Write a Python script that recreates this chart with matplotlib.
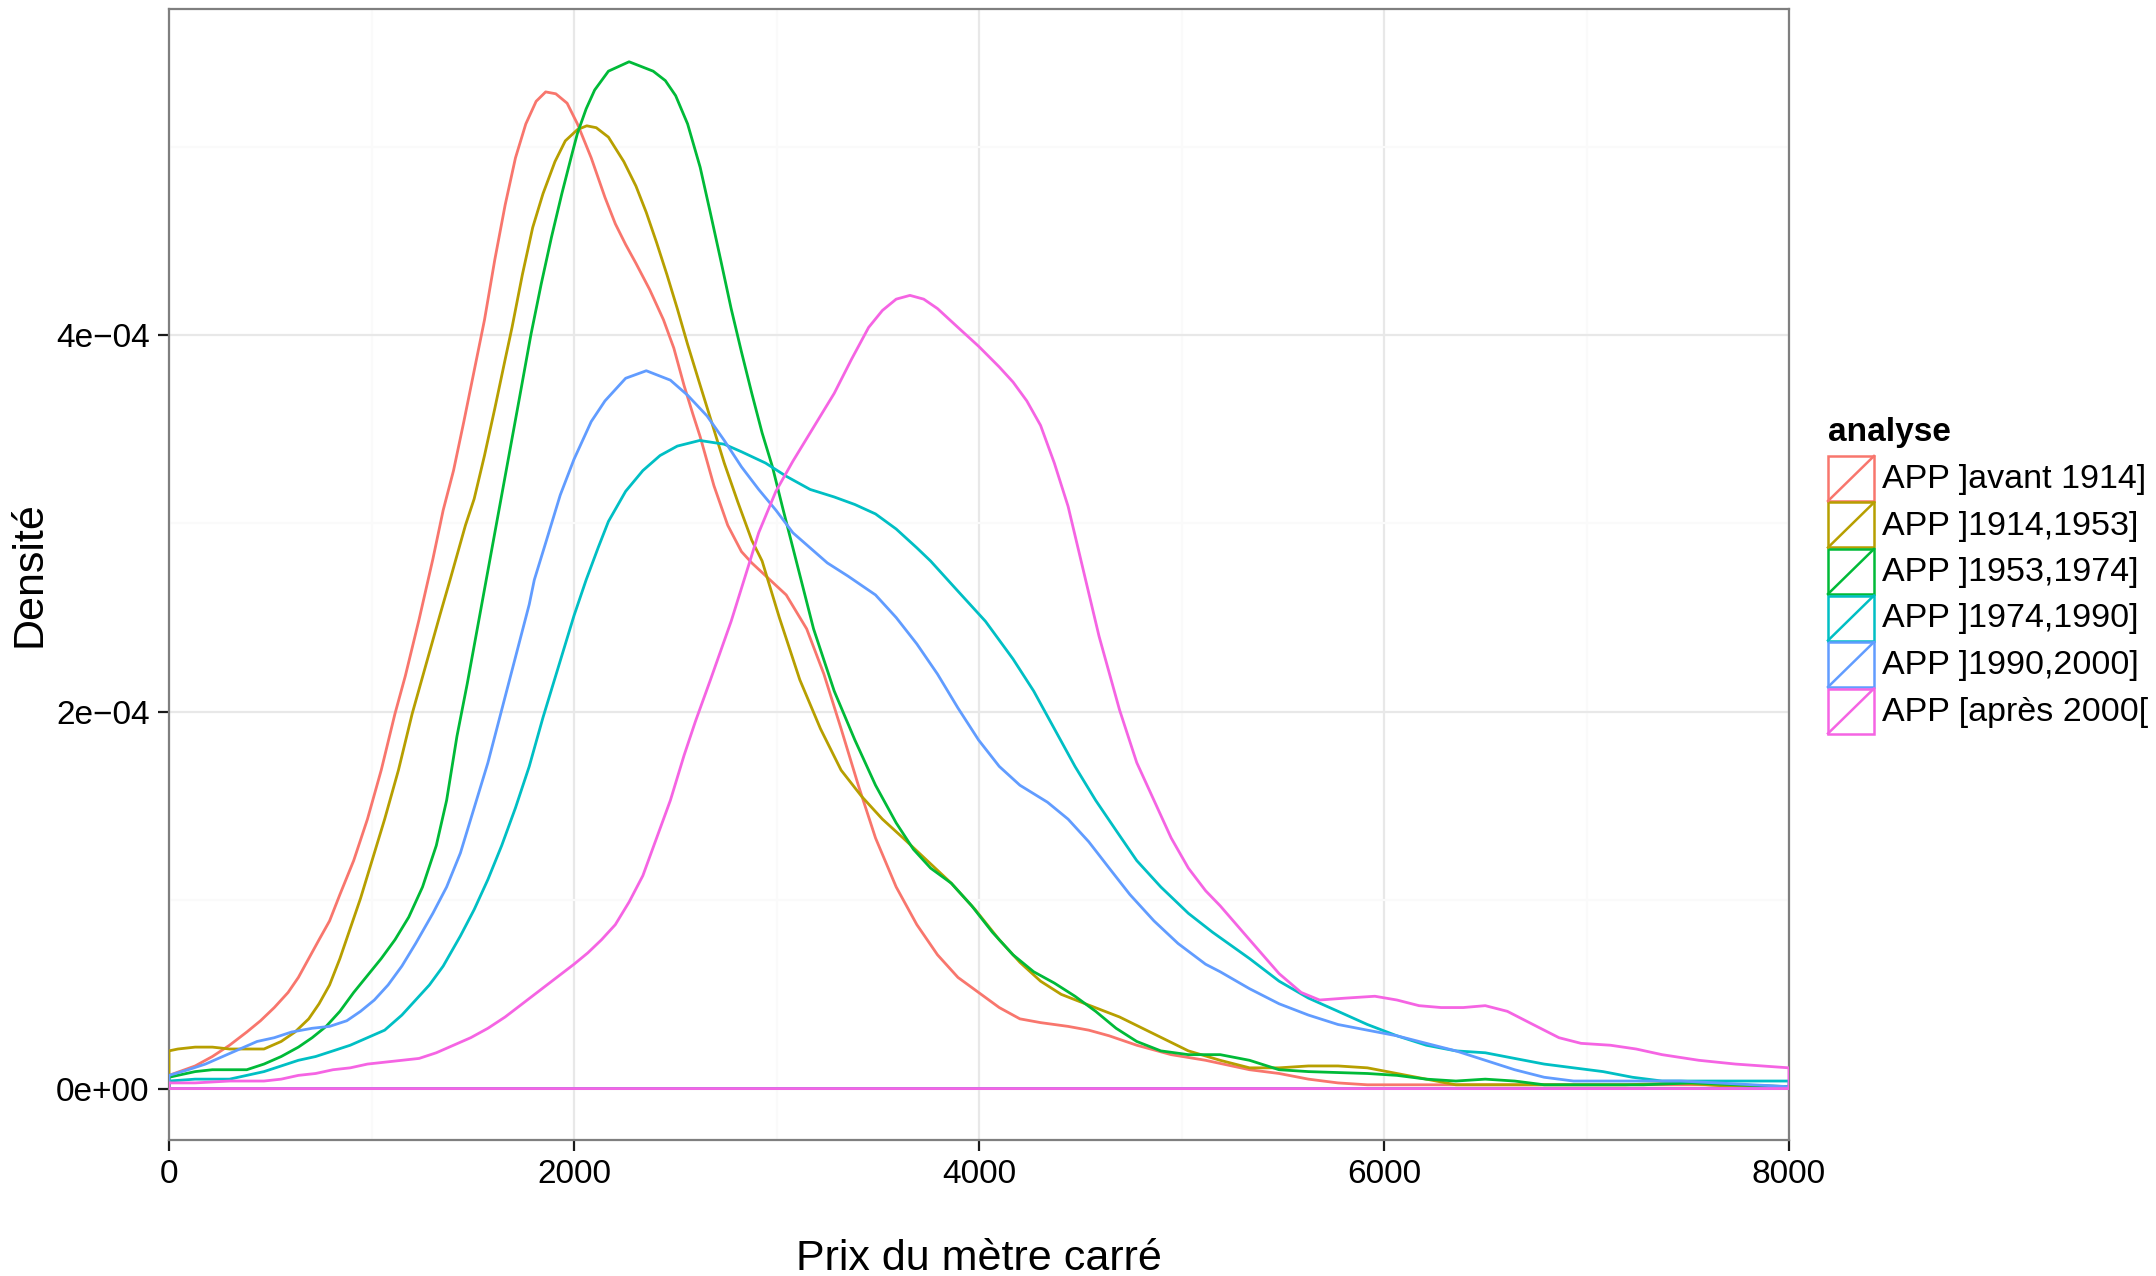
import matplotlib
matplotlib.use('Agg')
import matplotlib.pyplot as plt
from matplotlib.patches import Rectangle
from matplotlib.lines import Line2D

plt.rcParams['font.family'] = ['Liberation Sans', 'DejaVu Sans']

# densities are read in units of 1e-4
DENS_UNIT = 1e-4

LABELS = ['APP ]avant 1914]', 'APP ]1914,1953]', 'APP ]1953,1974]',
          'APP ]1974,1990]', 'APP ]1990,2000]', 'APP [après 2000[']
COLORS = ['#F8766D', '#B79F00', '#00BA38', '#00BFC4', '#619CFF', '#F564E3']

avant1914_x = [0, 129, 214, 299, 384, 452, 520, 588, 639, 690, 741, 793, 844, 912, 980,
               1048, 1116, 1167, 1235, 1303, 1354, 1405, 1456, 1507, 1558, 1609, 1660,
               1711, 1762, 1813, 1860, 1910, 1966, 2017, 2085, 2153, 2204, 2255, 2306,
               2374, 2442, 2493, 2544, 2587, 2623, 2691, 2759, 2827, 2878, 3048, 3149,
               3234, 3319, 3404, 3489, 3591, 3693, 3795, 3896, 3998, 4100, 4202, 4304,
               4440, 4542, 4643, 4779, 4949, 5119, 5336, 5482, 5627, 5773, 5918, 6464,
               7191, 7555, 8000]
avant1914_y = [0.07, 0.12, 0.17, 0.23, 0.30, 0.36, 0.43, 0.51, 0.59, 0.69, 0.79, 0.89,
               1.03, 1.21, 1.43, 1.69, 1.99, 2.19, 2.49, 2.81, 3.07, 3.28, 3.54, 3.81,
               4.08, 4.40, 4.69, 4.94, 5.12, 5.24, 5.29, 5.28, 5.23, 5.12, 4.94, 4.73,
               4.59, 4.48, 4.38, 4.24, 4.08, 3.93, 3.73, 3.58, 3.46, 3.20, 2.99, 2.85,
               2.79, 2.62, 2.44, 2.20, 1.91, 1.61, 1.33, 1.07, 0.87, 0.71, 0.59, 0.51,
               0.43, 0.37, 0.35, 0.33, 0.31, 0.28, 0.23, 0.18, 0.15, 0.10, 0.08, 0.05,
               0.03, 0.02, 0.02, 0.02, 0.02, 0.01]

p1914_1953_x = [0, 44, 129, 214, 299, 384, 469, 554, 622, 690, 741, 793, 844, 895, 946,
                997, 1065, 1133, 1201, 1269, 1337, 1388, 1464, 1507, 1558, 1609, 1660,
                1694, 1745, 1796, 1847, 1906, 1957, 2017, 2063, 2110, 2170, 2246, 2306,
                2357, 2408, 2459, 2510, 2561, 2621, 2673, 2742, 2810, 2878, 2929, 3014,
                3115, 3217, 3319, 3421, 3523, 3625, 3744, 3863, 3981, 4100, 4202, 4304,
                4406, 4525, 4694, 4864, 5034, 5191, 5336, 5482, 5627, 5773, 5918, 6064,
                6209, 6355, 6827, 7191, 7464, 7736, 8000]
p1914_1953_y = [0.20, 0.21, 0.22, 0.22, 0.21, 0.21, 0.21, 0.25, 0.30, 0.37, 0.45, 0.55,
                0.69, 0.85, 1.01, 1.19, 1.43, 1.69, 1.99, 2.25, 2.51, 2.70, 2.99, 3.13,
                3.36, 3.61, 3.87, 4.04, 4.32, 4.57, 4.75, 4.92, 5.03, 5.09, 5.11, 5.10,
                5.05, 4.92, 4.79, 4.65, 4.49, 4.32, 4.14, 3.95, 3.74, 3.56, 3.32, 3.11,
                2.91, 2.80, 2.50, 2.17, 1.91, 1.69, 1.55, 1.43, 1.33, 1.21, 1.09, 0.95,
                0.79, 0.67, 0.57, 0.50, 0.45, 0.38, 0.29, 0.20, 0.15, 0.11, 0.11, 0.12,
                0.12, 0.11, 0.08, 0.05, 0.02, 0.02, 0.02, 0.03, 0.01, 0.01]

p1953_1974_x = [0, 129, 214, 299, 384, 469, 554, 639, 707, 776, 844, 912, 980, 1048,
                1116, 1184, 1252, 1320, 1371, 1422, 1473, 1524, 1575, 1626, 1677, 1728,
                1787, 1838, 1889, 1940, 1990, 2017, 2060, 2102, 2170, 2272, 2391, 2451,
                2502, 2561, 2623, 2673, 2724, 2776, 2827, 2878, 2929, 2980, 3031, 3081,
                3183, 3285, 3387, 3489, 3591, 3676, 3761, 3863, 3964, 4066, 4168, 4270,
                4372, 4474, 4576, 4677, 4779, 4898, 5034, 5191, 5336, 5482, 5627, 5918,
                6064, 6209, 6355, 6500, 6645, 6791, 7282, 7518, 7736, 8000]
p1953_1974_y = [0.06, 0.09, 0.10, 0.10, 0.10, 0.13, 0.17, 0.22, 0.27, 0.33, 0.41, 0.51,
                0.60, 0.69, 0.79, 0.91, 1.07, 1.29, 1.53, 1.87, 2.15, 2.45, 2.75, 3.05,
                3.35, 3.65, 4.00, 4.27, 4.52, 4.75, 4.96, 5.07, 5.20, 5.30, 5.40, 5.45,
                5.40, 5.35, 5.27, 5.12, 4.89, 4.65, 4.40, 4.14, 3.91, 3.69, 3.48, 3.30,
                3.08, 2.87, 2.44, 2.11, 1.85, 1.61, 1.41, 1.27, 1.17, 1.09, 0.97, 0.83,
                0.71, 0.62, 0.56, 0.49, 0.41, 0.32, 0.25, 0.20, 0.18, 0.18, 0.15, 0.10,
                0.09, 0.08, 0.07, 0.05, 0.04, 0.05, 0.04, 0.02, 0.02, 0.03, 0.02, 0.01]

p1974_1990_x = [0, 129, 299, 384, 469, 554, 639, 724, 810, 895, 980, 1065, 1150, 1218,
                1286, 1354, 1439, 1507, 1575, 1643, 1711, 1779, 1847, 1915, 2000, 2060,
                2119, 2170, 2255, 2340, 2425, 2510, 2621, 2742, 2827, 2946, 3048, 3166,
                3285, 3387, 3489, 3591, 3693, 3761, 3896, 4032, 4168, 4270, 4372, 4474,
                4576, 4677, 4779, 4898, 5034, 5153, 5336, 5482, 5627, 5773, 5918, 6064,
                6209, 6355, 6500, 6645, 6791, 6936, 7082, 7227, 7373, 8000]
p1974_1990_y = [0.04, 0.05, 0.05, 0.07, 0.09, 0.12, 0.15, 0.17, 0.20, 0.23, 0.27, 0.31,
                0.39, 0.47, 0.55, 0.65, 0.81, 0.95, 1.11, 1.29, 1.49, 1.71, 1.97, 2.21,
                2.51, 2.70, 2.87, 3.01, 3.17, 3.28, 3.36, 3.41, 3.44, 3.42, 3.38, 3.32,
                3.25, 3.18, 3.14, 3.10, 3.05, 2.97, 2.87, 2.80, 2.64, 2.48, 2.28, 2.11,
                1.91, 1.71, 1.53, 1.37, 1.21, 1.07, 0.93, 0.83, 0.69, 0.57, 0.48, 0.41,
                0.34, 0.28, 0.23, 0.20, 0.19, 0.16, 0.13, 0.11, 0.09, 0.06, 0.04, 0.04]

p1990_2000_x = [0, 95, 180, 265, 350, 435, 520, 605, 707, 793, 878, 946, 1014, 1082,
                1150, 1218, 1303, 1371, 1439, 1507, 1575, 1643, 1711, 1779, 1804, 1864,
                1932, 2000, 2085, 2153, 2255, 2357, 2476, 2561, 2657, 2742, 2827, 2912,
                2997, 3081, 3166, 3251, 3353, 3489, 3591, 3693, 3795, 3896, 3998, 4100,
                4202, 4338, 4440, 4542, 4643, 4745, 4864, 4983, 5119, 5191, 5336, 5482,
                5627, 5773, 5918, 6064, 6209, 6355, 6500, 6645, 6791, 6936, 7191, 7464,
                7645, 8000]
p1990_2000_y = [0.07, 0.10, 0.13, 0.17, 0.21, 0.25, 0.27, 0.30, 0.32, 0.33, 0.36, 0.41,
                0.47, 0.55, 0.65, 0.77, 0.93, 1.07, 1.25, 1.49, 1.73, 2.01, 2.29, 2.57,
                2.70, 2.91, 3.15, 3.34, 3.54, 3.65, 3.77, 3.81, 3.76, 3.68, 3.57, 3.44,
                3.30, 3.18, 3.07, 2.95, 2.87, 2.79, 2.72, 2.62, 2.50, 2.36, 2.20, 2.02,
                1.85, 1.71, 1.61, 1.52, 1.43, 1.31, 1.17, 1.03, 0.89, 0.77, 0.66, 0.62,
                0.53, 0.45, 0.39, 0.34, 0.31, 0.28, 0.24, 0.20, 0.15, 0.10, 0.06, 0.04,
                0.04, 0.04, 0.03, 0.01]

apres2000_x = [0, 129, 299, 469, 554, 639, 724, 810, 895, 980, 1065, 1150, 1235, 1320,
               1405, 1490, 1575, 1660, 1745, 1830, 1915, 2000, 2068, 2136, 2204, 2272,
               2340, 2408, 2476, 2544, 2600, 2674, 2776, 2869, 2912, 2997, 3081, 3200,
               3285, 3370, 3455, 3523, 3591, 3659, 3727, 3795, 3896, 3998, 4100, 4168,
               4236, 4304, 4372, 4440, 4491, 4542, 4593, 4694, 4779, 4864, 4949, 5034,
               5119, 5191, 5336, 5482, 5591, 5682, 5809, 5955, 6064, 6173, 6282, 6391,
               6500, 6609, 6736, 6864, 6973, 7118, 7245, 7373, 7555, 7736, 8000]
apres2000_y = [0.03, 0.03, 0.04, 0.04, 0.05, 0.07, 0.08, 0.10, 0.11, 0.13, 0.14, 0.15,
               0.16, 0.19, 0.23, 0.27, 0.32, 0.38, 0.45, 0.52, 0.59, 0.66, 0.72, 0.79,
               0.87, 0.99, 1.13, 1.33, 1.53, 1.77, 1.95, 2.17, 2.48, 2.80, 2.95, 3.17,
               3.33, 3.54, 3.69, 3.87, 4.04, 4.13, 4.19, 4.21, 4.19, 4.14, 4.04, 3.94,
               3.83, 3.75, 3.65, 3.52, 3.32, 3.09, 2.86, 2.63, 2.40, 2.01, 1.73, 1.53,
               1.33, 1.17, 1.05, 0.97, 0.79, 0.61, 0.51, 0.47, 0.48, 0.49, 0.47, 0.44,
               0.43, 0.43, 0.44, 0.41, 0.34, 0.27, 0.24, 0.23, 0.21, 0.18, 0.15, 0.13,
               0.11]

SERIES = [
    (avant1914_x, avant1914_y),
    (p1914_1953_x, p1914_1953_y),
    (p1953_1974_x, p1953_1974_y),
    (p1974_1990_x, p1974_1990_y),
    (p1990_2000_x, p1990_2000_y),
    (apres2000_x, apres2000_y),
]

X_TICKS = [0, 2000, 4000, 6000, 8000]
Y_TICKS = [0, 2e-4, 4e-4]
Y_TICK_LABELS = ['0e+00', '2e\u221204', '4e\u221204']

W, H = 2156, 1276
fig = plt.figure(figsize=(W / 100, H / 100), dpi=100)
fig.patch.set_facecolor('white')

# axes box in pixels: left 169, right 1789, top 9, bottom 1140
ax = fig.add_axes([169 / W, 1 - 1140 / H, (1789 - 169) / W, (1140 - 9) / H])

for (xs, ys), color in zip(SERIES, COLORS):
    # density outline as ggplot draws it: closed polygon down to the baseline
    px = [xs[0]] + list(xs) + [xs[-1], xs[0]]
    py = [0] + [v * DENS_UNIT for v in ys] + [0, 0]
    ax.plot(px, py, color=color, lw=2.0, solid_joinstyle='round', zorder=3)

ax.set_xlim(0, 8000)
ax.set_ylim(-0.273e-4, 5.73e-4)

ax.set_xticks(X_TICKS)
ax.set_xticklabels([str(t) for t in X_TICKS])
ax.set_yticks(Y_TICKS)
ax.set_yticklabels(Y_TICK_LABELS)
ax.set_xticks([1000, 3000, 5000, 7000], minor=True)
ax.set_yticks([1e-4, 3e-4, 5e-4], minor=True)

ax.grid(True, which='major', color='#E8E8E8', lw=1.6, zorder=0)
ax.grid(True, which='minor', color='#FAFAFA', lw=1.6, zorder=0)
ax.set_axisbelow(True)
ax.tick_params(which='major', direction='out', length=8, width=1.6, color='#1a1a1a',
               labelsize=24, pad=6, labelcolor='black')
ax.tick_params(which='minor', length=0)
for sp in ax.spines.values():
    sp.set_color('#7F7F7F')
    sp.set_linewidth(1.6)

ax.set_xlabel('Prix du mètre carré', fontsize=31)
ax.set_ylabel('Densité', fontsize=31)
ax.xaxis.set_label_coords(0.5, (1140 - 1239) / (1140 - 9))
ax.yaxis.set_label_coords((50 - 169) / (1789 - 169), 0.5)

# legend drawn by hand, ggplot style
fig.text(1828 / W, 1 - 433 / H, 'analyse', fontsize=24, fontweight='bold',
         ha='left', va='center')
key_w, key_h, pitch, top0 = 46, 45, 46.5, 456
for i, (lab, color) in enumerate(zip(LABELS, COLORS)):
    top = top0 + i * pitch
    x0 = 1828 / W
    y0 = 1 - (top + key_h) / H
    fig.patches.append(Rectangle((x0, y0), key_w / W, key_h / H, transform=fig.transFigure,
                                 fill=False, edgecolor=color, lw=1.8))
    fig.lines.append(Line2D([x0, x0 + key_w / W], [y0, y0 + key_h / H],
                            transform=fig.transFigure, color=color, lw=1.8))
    fig.text(1882 / W, 1 - (top + key_h / 2 + 1) / H, lab, fontsize=24.5,
             ha='left', va='center')

fig.savefig('out.png', dpi=100, facecolor='white')
